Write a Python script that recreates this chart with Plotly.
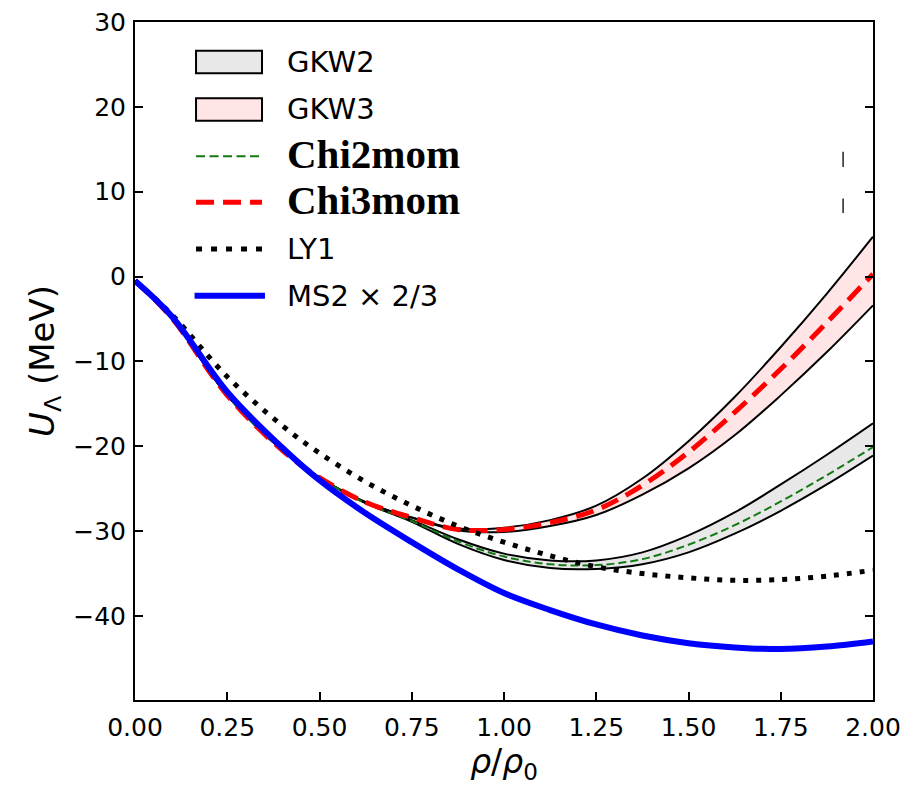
import plotly.graph_objects as go

rho = [0, 0.1, 0.25, 0.4, 0.5, 0.625, 0.75, 0.875, 1.0, 1.125, 1.25, 1.375, 1.5, 1.625, 1.75, 1.875, 2.0]

gkw2_upper = [-0.5, -4.9, -14.0, -20.5, -23.7, -26.7, -28.7, -30.95, -32.65, -33.45, -33.45, -32.5, -30.5, -27.8, -24.5, -21.0, -17.3]
gkw2_lower = [-0.5, -4.9, -14.0, -20.5, -23.7, -26.7, -28.9, -31.5, -33.4, -34.35, -34.45, -33.9, -32.5, -30.3, -27.6, -24.5, -21.1]
gkw3_upper = [-0.5, -4.9, -14.0, -20.5, -23.7, -26.6, -28.4, -29.7, -29.6, -28.7, -27.0, -23.8, -19.4, -14.2, -8.3, -2.0, 4.7]
gkw3_lower = [-0.5, -4.9, -14.0, -20.5, -23.7, -26.6, -28.4, -29.9, -30.1, -29.4, -28.1, -25.7, -22.6, -18.7, -14.0, -8.9, -3.4]
chi2mom = [-0.5, -4.9, -14.0, -20.5, -23.7, -26.7, -28.8, -31.2, -33.0, -33.9, -34.0, -33.3, -31.6, -29.3, -26.5, -23.4, -20.1]
chi3mom = [-0.5, -4.9, -14.0, -20.5, -23.7, -26.6, -28.4, -29.8, -29.8, -29.0, -27.5, -24.6, -20.7, -16.0, -10.9, -5.4, 0.3]
ly1 = [-0.5, -4.5, -11.8, -17.6, -20.8, -24.2, -27.0, -29.4, -31.3, -32.9, -34.2, -35.0, -35.5, -35.8, -35.7, -35.3, -34.6]
ms2 = [-0.5, -4.7, -13.6, -20.2, -24.0, -27.9, -31.3, -34.5, -37.3, -39.3, -41.0, -42.3, -43.2, -43.7, -43.9, -43.6, -43.0]

mark_x = [1.919, 1.919, None, 1.919, 1.919]
mark_y = [14.7, 12.9, None, 9.2, 7.5]

x_ticks = [0, 0.25, 0.5, 0.75, 1.0, 1.25, 1.5, 1.75, 2.0]
x_ticklabels = ["0.00", "0.25", "0.50", "0.75", "1.00", "1.25", "1.50", "1.75", "2.00"]
y_ticks = [-40, -30, -20, -10, 0, 10, 20, 30]

legend_names = ["GKW2", "GKW3", "Chi2mom", "Chi3mom", "LY1", "MS2 × 2/3"]

GREEN = "#137a13"
RED = "#ff0000"
BLUE = "#0000ff"
GREY_FILL = "rgba(0,0,0,0.09)"
PINK_FILL = "rgba(255,0,0,0.1)"

fig = go.Figure()

# GKW2 band
fig.add_trace(go.Scatter(x=rho, y=gkw2_lower, mode="lines", line=dict(color="black", width=2, shape="spline"),
                         showlegend=False, hoverinfo="skip"))
fig.add_trace(go.Scatter(x=rho, y=gkw2_upper, mode="lines", line=dict(color="black", width=2, shape="spline"),
                         fill="tonexty", fillcolor=GREY_FILL, showlegend=False, name=legend_names[0]))
# GKW3 band
fig.add_trace(go.Scatter(x=rho, y=gkw3_lower, mode="lines", line=dict(color="black", width=2, shape="spline"),
                         showlegend=False, hoverinfo="skip"))
fig.add_trace(go.Scatter(x=rho, y=gkw3_upper, mode="lines", line=dict(color="black", width=2, shape="spline"),
                         fill="tonexty", fillcolor=PINK_FILL, showlegend=False, name=legend_names[1]))

fig.add_trace(go.Scatter(x=rho, y=chi2mom, mode="lines",
                         line=dict(color=GREEN, width=2, dash="8px,4px", shape="spline"),
                         showlegend=False, name=legend_names[2]))
fig.add_trace(go.Scatter(x=rho, y=chi3mom, mode="lines",
                         line=dict(color=RED, width=5, dash="18px,9px", shape="spline"),
                         showlegend=False, name=legend_names[3]))
fig.add_trace(go.Scatter(x=rho, y=ly1, mode="lines",
                         line=dict(color="black", width=5, dash="5px,8px", shape="spline"),
                         showlegend=False, name=legend_names[4]))
fig.add_trace(go.Scatter(x=rho, y=ms2, mode="lines",
                         line=dict(color=BLUE, width=6, shape="spline"),
                         showlegend=False, name=legend_names[5]))
fig.add_trace(go.Scatter(x=mark_x, y=mark_y, mode="lines", line=dict(color="#222222", width=1.5),
                         showlegend=False, hoverinfo="skip"))

# ---- legend (drawn in paper coordinates) ----
sym_x0, sym_x1, text_x = 0.0827, 0.1721, 0.2035
row_y = [0.9410, 0.8710, 0.8060, 0.7370, 0.6652, 0.5963]
box_h = 0.0165
fig.add_shape(type="rect", xref="paper", yref="paper", x0=sym_x0, x1=sym_x1,
              y0=row_y[0] - box_h, y1=row_y[0] + box_h, fillcolor=GREY_FILL, line=dict(color="black", width=2))
fig.add_shape(type="rect", xref="paper", yref="paper", x0=sym_x0, x1=sym_x1,
              y0=row_y[1] - box_h, y1=row_y[1] + box_h, fillcolor=PINK_FILL, line=dict(color="black", width=2))
fig.add_shape(type="line", xref="paper", yref="paper", x0=sym_x0, x1=sym_x1, y0=row_y[2] - 0.004, y1=row_y[2] - 0.004,
              line=dict(color=GREEN, width=2, dash="9px,4.5px"))
fig.add_shape(type="line", xref="paper", yref="paper", x0=sym_x0, x1=sym_x1, y0=row_y[3] - 0.003, y1=row_y[3] - 0.003,
              line=dict(color=RED, width=5, dash="18px,9px"))
fig.add_shape(type="line", xref="paper", yref="paper", x0=sym_x0, x1=sym_x1, y0=row_y[4], y1=row_y[4],
              line=dict(color="black", width=5, dash="6px,9px"))
fig.add_shape(type="line", xref="paper", yref="paper", x0=sym_x0 - 0.002, x1=sym_x1 + 0.004, y0=row_y[5], y1=row_y[5],
              line=dict(color=BLUE, width=6))

for i, name in enumerate(legend_names):
    if name.startswith("Chi"):
        font = dict(family="Liberation Serif", size=41, color="black", weight="bold")
        txt = f"<b>{name}</b>"
    else:
        font = dict(family="DejaVu Sans", size=29, color="black")
        txt = name
    fig.add_annotation(x=text_x, y=row_y[i], xref="paper", yref="paper", text=txt, showarrow=False,
                       xanchor="left", yanchor="middle", font=font)

axis_common = dict(
    showgrid=False, zeroline=False, showline=True, linecolor="black", linewidth=2,
    ticks="inside", ticklen=8, tickwidth=1.5, tickcolor="black",
    tickfont=dict(family="DejaVu Sans", size=25, color="black"),
    ticklabeloverflow="allow", automargin=False,
)

fig.update_layout(
    width=908, height=788,
    margin=dict(l=127, r=43, t=14, b=96, autoexpand=False),
    paper_bgcolor="white", plot_bgcolor="white",
    font=dict(family="DejaVu Sans", color="black"),
    xaxis=dict(range=[0, 2], tickvals=x_ticks, ticktext=x_ticklabels, mirror=True, ticklabelstandoff=4,
               title=dict(text="<i>ρ</i>/<i>ρ</i><sub>0</sub>", font=dict(size=33), standoff=8),
               **axis_common),
    yaxis=dict(range=[-49.9, 30], tickvals=y_ticks, mirror="ticks", ticklabelstandoff=2,
               title=dict(text="<i>U</i><sub>Λ</sub> (MeV)", font=dict(size=34), standoff=8),
               **axis_common),
    showlegend=False,
)

fig.write_html("out.html")
